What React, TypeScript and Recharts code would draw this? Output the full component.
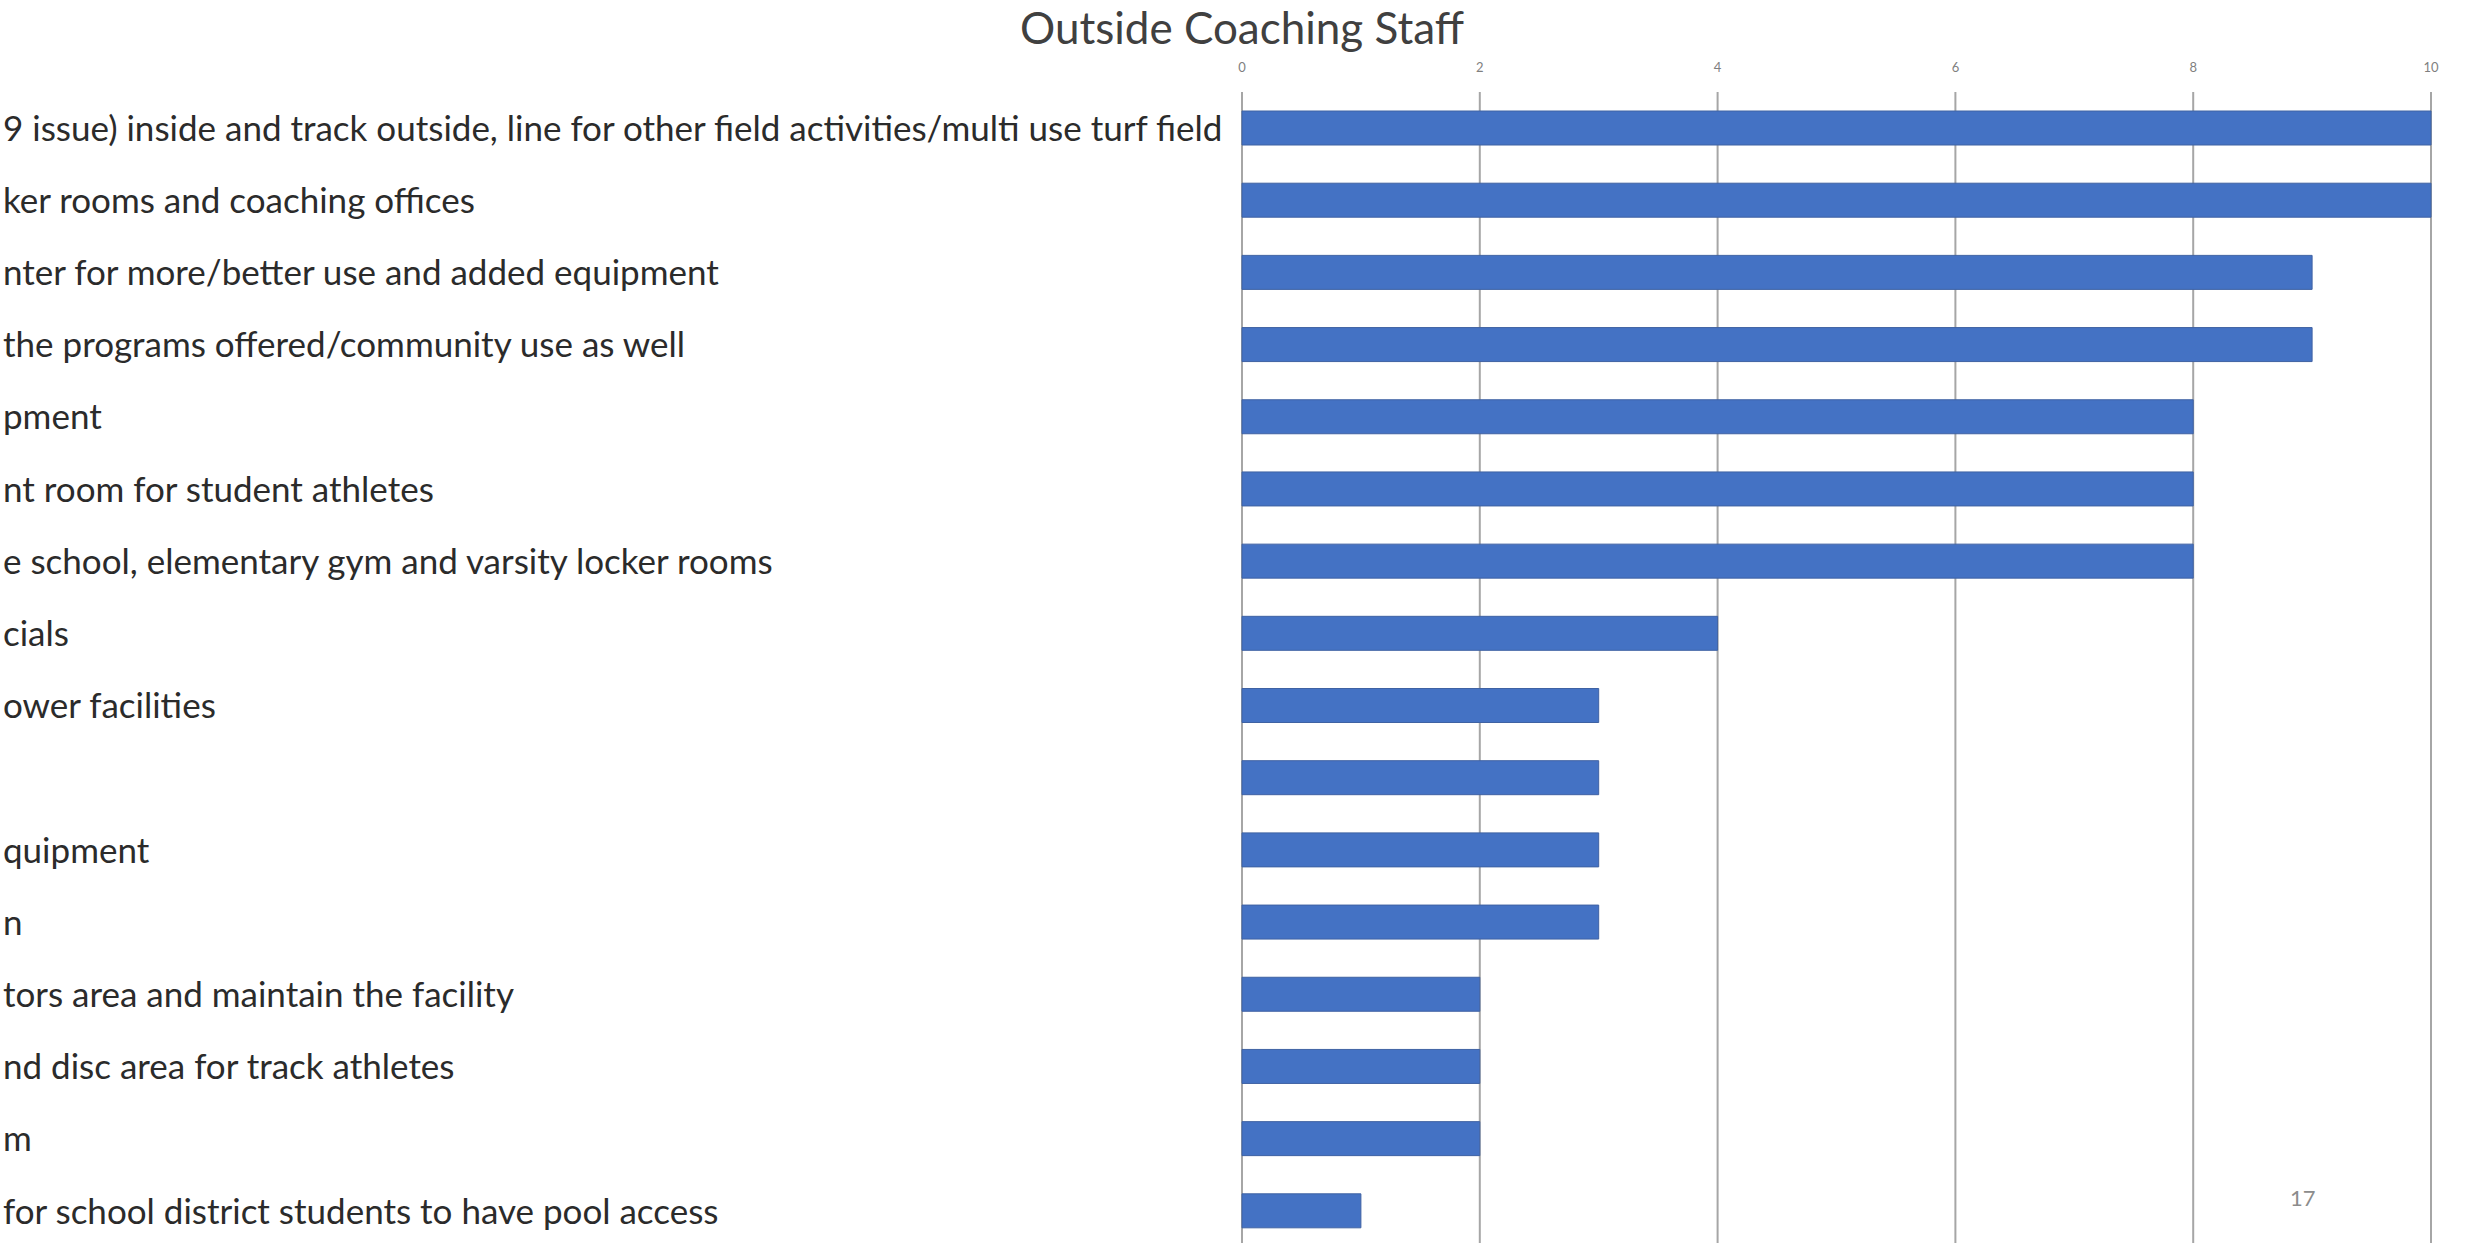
import { BarChart, Bar, XAxis, YAxis, CartesianGrid } from "recharts";

const categories = [
  "9 issue) inside and track outside, line for other field activities/multi use turf field",
  "ker rooms and coaching offices",
  "nter for more/better use and added equipment",
  "the programs offered/community use as well",
  "pment",
  "nt room for student athletes",
  "e school, elementary gym and varsity locker rooms",
  "cials",
  "ower facilities",
  "",
  "quipment",
  "n",
  "tors area and maintain the facility",
  "nd disc area for track athletes",
  "m",
  "for school district students to have pool access",
];

const counts = [10, 10, 9, 9, 8, 8, 8, 4, 3, 3, 3, 3, 2, 2, 2, 1];

const xTicks = [0, 2, 4, 6, 8, 10];

const data = categories.map((name, i) => ({ name, value: counts[i], key: `c${i}` }));

const FONT = "Lato, 'Open Sans', sans-serif";

// labels in the slide are left aligned and cut by the left edge
function CategoryTick(props: any) {
  const { y, payload } = props;
  const label = categories[payload.index] ?? "";
  return (
    <text x={3} y={y} dy="0.36em" textAnchor="start" fontFamily={FONT} fontSize={35} fill="#2b2b2b">
      {label}
    </text>
  );
}

export default function App() {
  return (
    <div
      style={{
        position: "absolute",
        left: 0,
        top: 0,
        width: 2465,
        height: 1243,
        overflow: "hidden",
        background: "#fff",
        fontFamily: FONT,
      }}
    >
      <div
        style={{
          position: "absolute",
          left: 1242 - 400,
          width: 800,
          top: 0,
          textAlign: "center",
          fontSize: 44,
          lineHeight: "54px",
          color: "#404040",
        }}
      >
        Outside Coaching Staff
      </div>
      <BarChart
        width={2465}
        height={1250}
        data={data}
        layout="vertical"
        margin={{ top: 52, right: 34, bottom: 3, left: 0 }}
      >
        <CartesianGrid horizontal={false} stroke="#a6a6a6" strokeWidth={2} />
        <XAxis
          type="number"
          orientation="top"
          domain={[0, 10]}
          ticks={xTicks}
          height={40}
          axisLine={false}
          tickLine={false}
          tickMargin={14}
          tick={{ fontSize: 13, fill: "#7f7f7f", fontFamily: FONT }}
        />
        <YAxis
          type="category"
          dataKey="key"
          width={1242}
          interval={0}
          axisLine={false}
          tickLine={false}
          tick={<CategoryTick />}
        />
        <Bar
          dataKey="value"
          fill="#4472C4"
          stroke="#3f62a3"
          strokeWidth={1}
          barSize={34}
          isAnimationActive={false}
        />
      </BarChart>
      <div
        style={{
          position: "absolute",
          left: 2290,
          top: 1184,
          fontSize: 22,
          color: "#8c8c8c",
        }}
      >
        17
      </div>
    </div>
  );
}
